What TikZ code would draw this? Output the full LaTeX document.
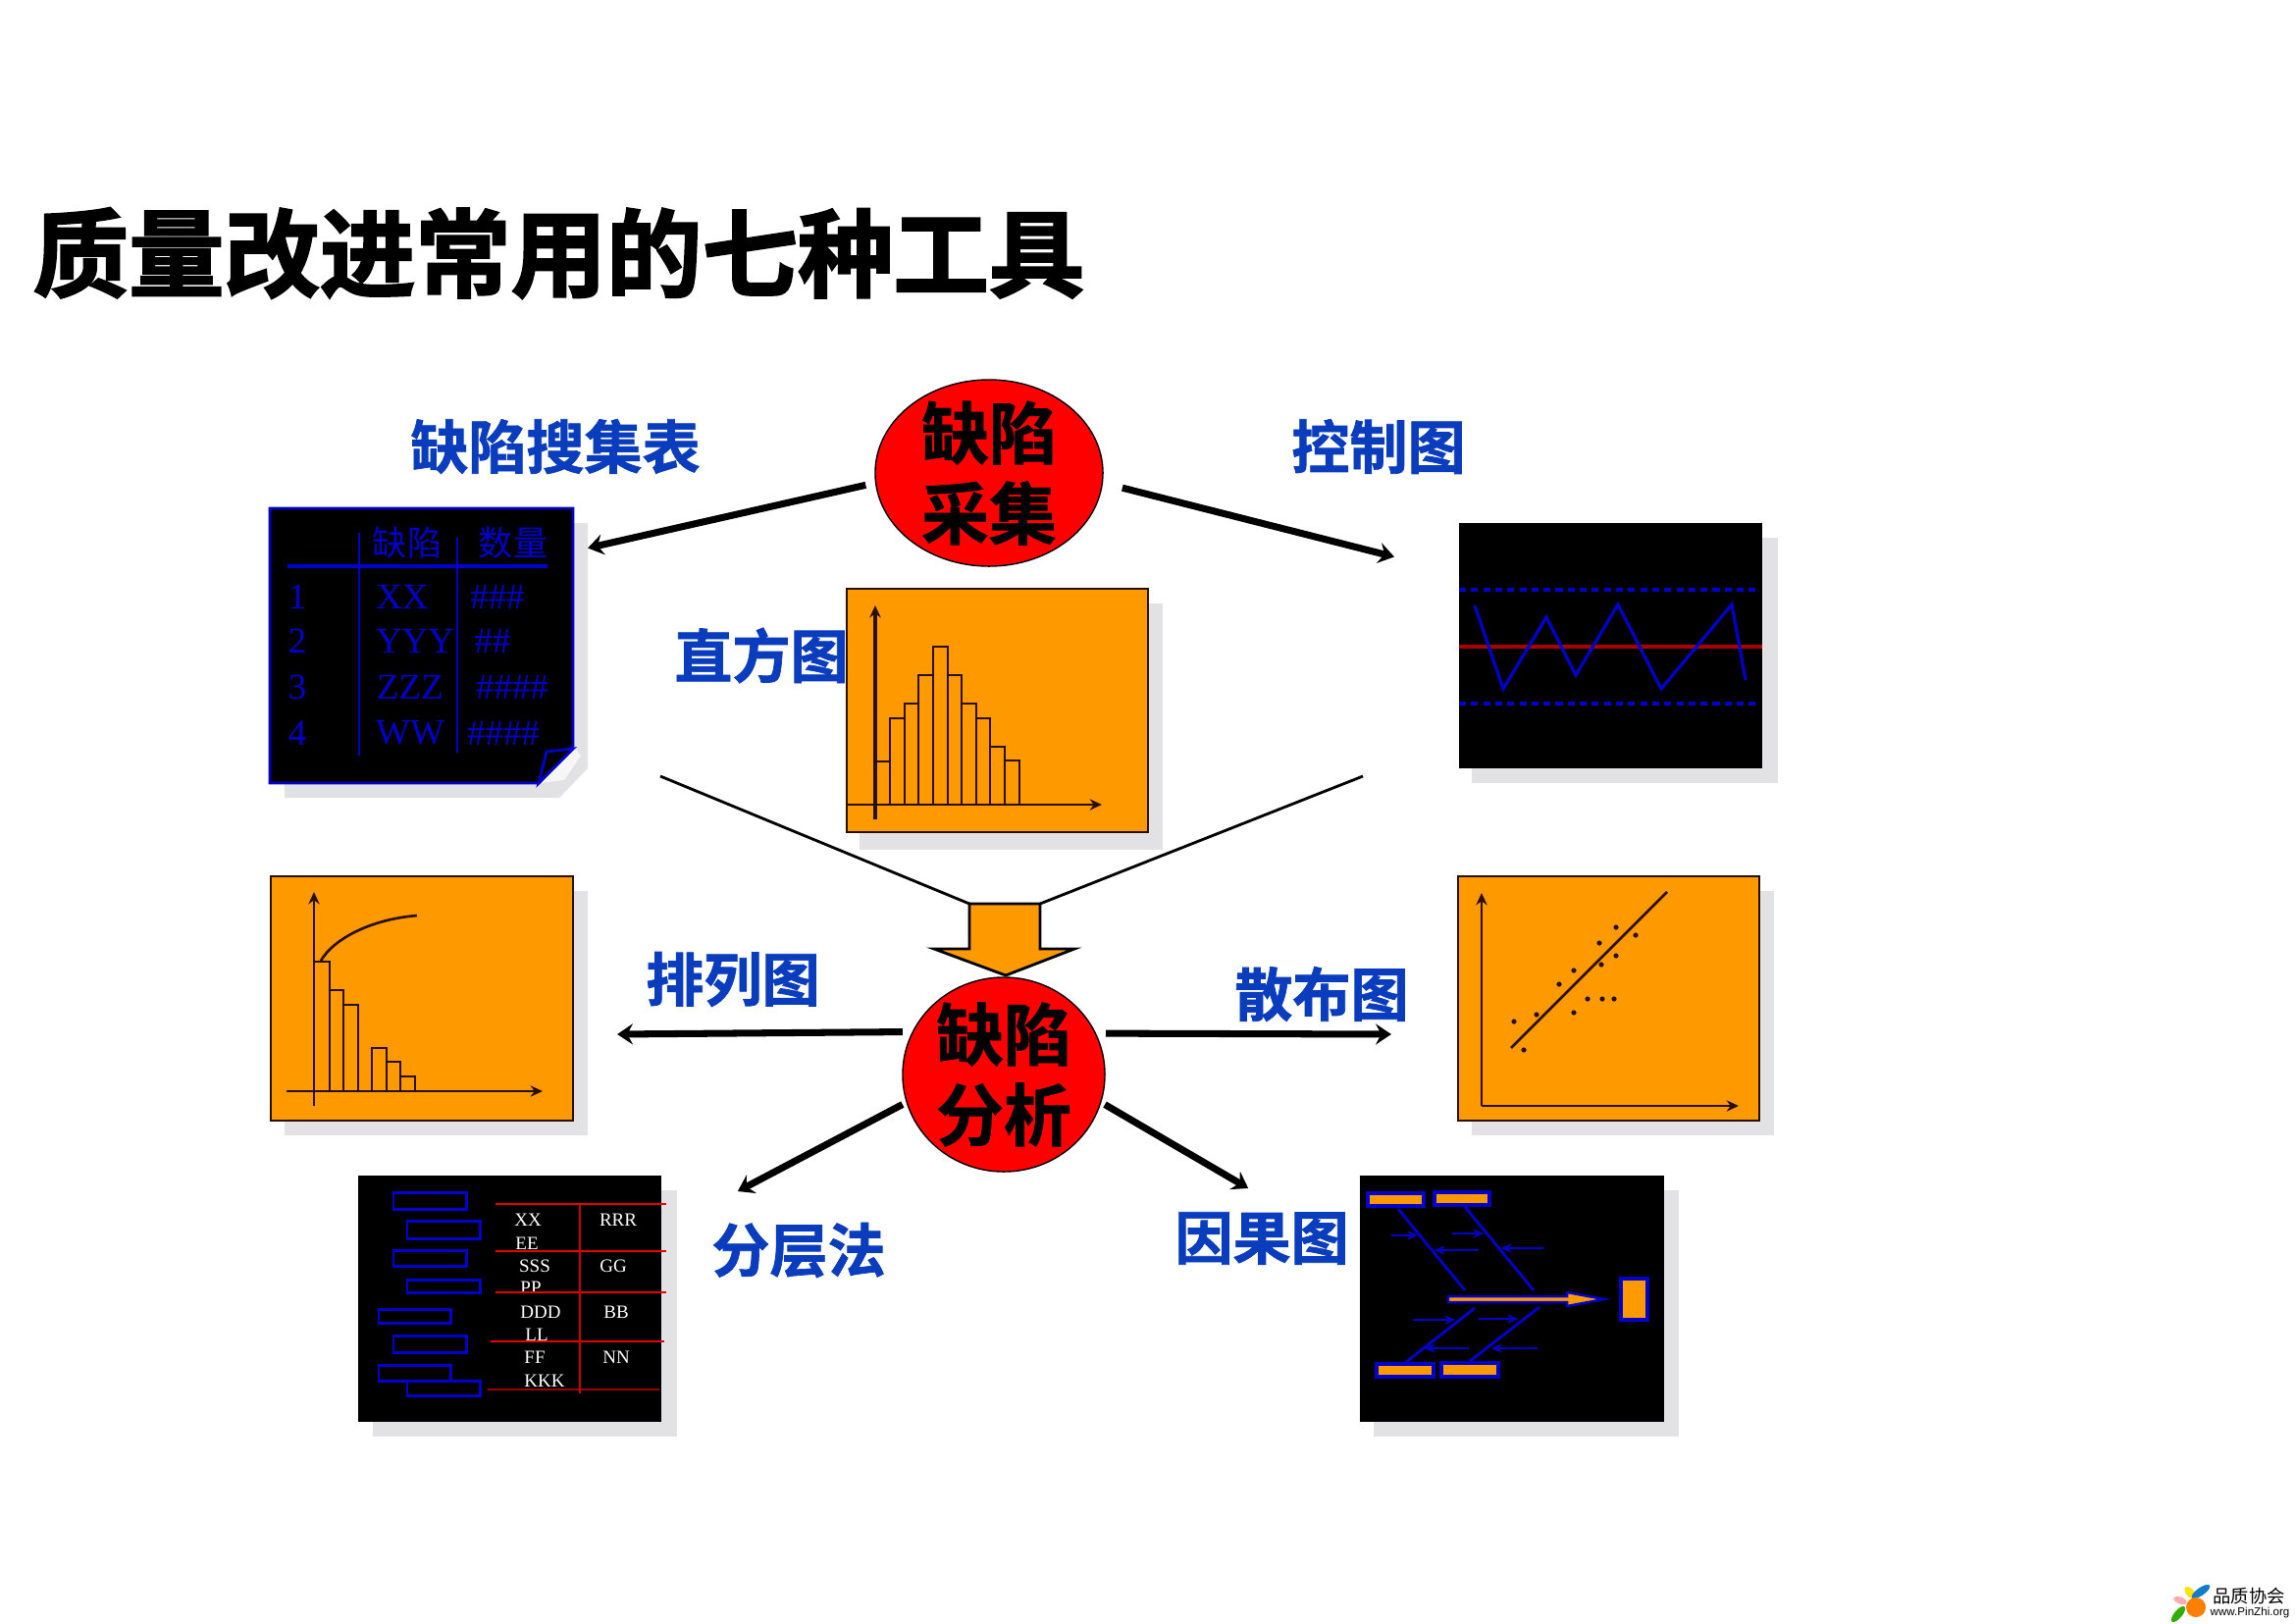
\documentclass[tikz,border=0pt]{standalone}
\usepackage{fontspec}
\setmainfont{Liberation Serif}
\setsansfont{Liberation Sans}
\newfontfamily\cjkfont[BoldFont={Noto Sans CJK SC Bold},BoldFeatures={FakeBold=1.2}]{Noto Sans CJK SC}
\newfontfamily\titlefont[FakeBold=2.2]{Noto Sans CJK SC Bold}
\usetikzlibrary{arrows.meta,positioning,shapes.geometric}
\definecolor{toolblue}{RGB}{10,60,190}
\definecolor{panelorange}{RGB}{255,153,0}
\definecolor{panelblue}{RGB}{0,0,205}
\definecolor{shadowgrey}{RGB}{226,226,228}
\definecolor{axisbrown}{RGB}{40,15,8}
\tikzset{
  toolname/.style={font=\cjkfont\bfseries\fontsize{16.8}{18}\selectfont,text=toolblue,inner sep=0pt},
  hubnode/.style={ellipse,draw=black,fill=red,line width=0.4pt,inner xsep=0pt,inner ysep=-3pt,align=center,
    font=\cjkfont\bfseries\fontsize{19.6}{23.3}\selectfont},
  linkarrow/.style={line width=2pt,-{Stealth[length=4.5pt,width=6pt,inset=1.6pt,sep=0.6pt]}},
  orangepanel/.style={draw=axisbrown,fill=panelorange,line width=0.65pt},
  blackpanel/.style={fill=black},
  panelaxis/.style={draw=axisbrown,line width=0.7pt,-{Stealth[length=3.5pt,width=3.2pt]}},
  histbar/.style={draw=axisbrown,line width=0.75pt},
  bluetext/.style={font=\fontsize{10.5}{11}\selectfont,text=panelblue,inner sep=0pt},
  whitetext/.style={font=\fontsize{5.4}{6}\selectfont,text=white,inner sep=0pt},
  stratbox/.style={draw=panelblue,line width=0.85pt},
  redline/.style={draw=red!90!black,line width=0.8pt},
  fishbox/.style={draw=panelblue,fill=panelorange,line width=0.9pt},
  bone/.style={draw=panelblue,line width=0.8pt},
  twig/.style={draw=panelblue,line width=0.5pt,-{Stealth[length=3pt,width=2.6pt]}},
}
\begin{document}
\begin{tikzpicture}[x=0.01cm,y=-0.01cm]
  \useasboundingbox (0,0) rectangle (2339,1654);
  % shadows
  \fill[shadowgrey] (290,533) -- (599,533) -- (599,783) -- (570,813) -- (290,813) -- cycle;
  \foreach \xa/\ya/\xb/\yb in {1500/548/1812/798,876/615/1185/866,290/908/599/1157,1500/908/1808/1157,380/1213/690/1464,1400/1213/1711/1464}
    \fill[shadowgrey] (\xa,\ya) rectangle (\xb,\yb);
  % title
  \node[anchor=west,inner sep=0pt,font=\titlefont\fontsize{27.7}{30}\selectfont] (title) at (33,258) {质量改进常用的七种工具};
  % hubs
  \node[hubnode,minimum width=232*0.2845pt,minimum height=190*0.2845pt] (collect) at (1008,482) {缺陷\\采集};
  \node[hubnode,minimum width=206*0.2845pt,minimum height=198*0.2845pt] (analyse) at (1023,1095) {缺陷\\分析};
  % table panel
  \fill[white!70!shadowgrey] (584,760) -- (549,798) -- (575,795) -- (592,770) -- cycle;
  \filldraw[fill=black,draw=panelblue,line width=0.8pt] (275,518) -- (584,518) -- (584,760) -- (549,798) -- (275,798) -- cycle;
  \filldraw[fill=black,draw=panelblue,line width=0.8pt] (584,763) -- (557,766) -- (549,798) -- cycle;
  \draw[panelblue,line width=0.9pt] (293,577) -- (558,577);
  \draw[panelblue,line width=0.7pt] (366,543) -- (366,770) (466,548) -- (466,767);
  \node[bluetext,font=\cjkfont\fontsize{10}{11}\selectfont] (thdefect) at (415,553) {缺陷};
  \node[bluetext,font=\cjkfont\fontsize{10}{11}\selectfont] (thcount) at (523,553) {数量};
  \foreach \yy/\nn/\cc/\cx/\mm/\mx in {608/1/XX/410/\#\#\#/507,653/2/YYY/423/\#\#/502,700/3/ZZZ/418/\#\#\#\#/522,747/4/WW/418/\#\#\#\#/513} {
    \node[bluetext] at (303,\yy) {\nn};
    \node[bluetext] at (\cx,\yy) {\cc};
    \node[bluetext] at (\mx,\yy) {\mm};
  }
  % control chart
  \fill[blackpanel] (1487,533) rectangle (1796,783);
  \draw[panelblue,line width=0.9pt,dash pattern=on 2pt off 1.5pt] (1487,601) -- (1790,601) (1487,717) -- (1790,717);
  \draw[red!65!black,line width=1.2pt] (1487,659) -- (1796,659);
  \draw[panelblue,line width=0.9pt] (1503,617) -- (1532,702) -- (1576,629) -- (1606,688) -- (1649,616) -- (1693,702) -- (1765,616) -- (1779,693);
  % histogram
  \filldraw[orangepanel] (863,600) rectangle (1170,848);
  \foreach \xa/\xb/\yt in {892/907/776,907/922/732,922/936/717,936/951/688,951/966/659,966/980/688,980/995/717,995/1009/732,1009/1024/761,1024/1039/775}
    \draw[histbar] (\xa,820) -- (\xa,\yt) -- (\xb,\yt) -- (\xb,820);
  \draw[panelaxis] (863,820) -- (1123,820);
  \draw[panelaxis,line width=1.1pt] (892,835) -- (892,617);
  % pareto
  \filldraw[orangepanel] (276,893) rectangle (584,1142);
  \foreach \xa/\xb/\yt in {320/336/980,336/350/1009,350/365/1024,379/394/1068,394/408/1082,408/423/1097}
    \draw[histbar] (\xa,1112) -- (\xa,\yt) -- (\xb,\yt) -- (\xb,1112);
  \draw[panelaxis] (292,1112) -- (553,1112);
  \draw[panelaxis] (320,1127) -- (320,909);
  \draw[histbar] (327,979) .. controls (340,957) and (377,937) .. (425,933);
  % scatter
  \filldraw[orangepanel] (1486,893) rectangle (1793,1142);
  \draw[panelaxis] (1510,1127) -- (1510,910);
  \draw[panelaxis] (1510,1127) -- (1772,1127);
  \draw[histbar] (1540,1068) -- (1699,909);
  \foreach \dx/\dy in {1543/1041,1553/1070,1566/1034,1589/1003,1604/989,1604/1032,1618/1018,1633/1018,1645/1018,1632/983,1630/961,1647/945,1647/974,1667/953}
    \fill[axisbrown] (\dx,\dy) circle (2.6);
  % stratification
  \fill[blackpanel] (365,1198) rectangle (674,1449);
  \foreach \xa/\ya/\xb/\yb in {401/1215/475/1232,415/1244/489/1262,401/1274/475/1290,415/1304/489/1317,386/1334/459/1348,401/1361/475/1378,386/1391/459/1407,415/1407/489/1422}
    \draw[stratbox] (\xa,\ya) rectangle (\xb,\yb);
  \foreach \tx/\ty/\tt in {538/1243/XX,537/1267/EE,545/1290/SSS,541/1312/PP,551/1337/DDD,547/1360/LL,545/1383/FF,555/1407/KKK,630/1243/RRR,625/1290/GG,628/1337/BB,628/1383/NN}
    \node[whitetext] at (\tx,\ty) {\tt};
  \foreach \xa/\xb/\yy in {505/679/1227,505/679/1275,505/679/1317,500/677/1367}
    \draw[redline] (\xa,\yy) -- (\xb,\yy);
  \draw[redline,draw=red!60!black] (497,1416) -- (672,1416);
  \draw[redline,red!80!black] (591,1227) -- (591,1420);
  % fishbone
  \fill[blackpanel] (1386,1198) rectangle (1696,1449);
  \foreach \xa/\ya/\xb/\yb in {1394/1216/1451/1229,1462/1215/1518/1228,1403/1390/1461/1403,1469/1389/1527/1403,1652/1303/1679/1345}
    \filldraw[fishbox] (\xa,\ya) rectangle (\xb,\yb);
  \foreach \xa/\ya/\xb/\yb in {1425/1232/1493/1315,1493/1230/1563/1315,1433/1388/1503/1333,1498/1387/1569/1332}
    \draw[bone] (\xa,\ya) -- (\xb,\yb);
  \foreach \xa/\ya/\xb/\yb in {1418/1259/1445/1259,1480/1257/1512/1257,1507/1274/1462/1274,1573/1272/1530/1272,1440/1345/1483/1345,1507/1344/1547/1344,1497/1374/1452/1374,1567/1374/1520/1374}
    \draw[twig] (\xa,\ya) -- (\xb,\yb);
  \filldraw[fill=panelorange,draw=panelblue,line width=0.7pt] (1476,1321) -- (1597,1321) -- (1597,1317) -- (1635,1324) -- (1597,1331) -- (1597,1327) -- (1476,1327) -- cycle;
  % funnel and block arrow
  \coordinate (funnelleft) at (673,791);
  \coordinate (funnelright) at (1389,791);
  \coordinate (blockleft) at (988,921);
  \coordinate (blockright) at (1060,921);
  \draw[black,line width=0.8pt] (funnelleft) -- (blockleft);
  \draw[black,line width=0.8pt] (funnelright) -- (blockright);
  \filldraw[fill=panelorange,draw=black,line width=0.8pt] (blockleft) -- (blockright) -- (1060,967) -- (1095,967) -- (1025,994) -- (952,967) -- (988,967) -- cycle;
  % arrows
  \coordinate (tableend) at (597,559);
  \coordinate (chartend) at (1423,568);
  \coordinate (paretoend) at (627,1054);
  \coordinate (scatterend) at (1420,1054);
  \coordinate (stratend) at (750,1215);
  \coordinate (fishend) at (1274,1212);
  \draw[linkarrow,shorten <=2.8pt] (collect.185) -- (tableend);
  \draw[linkarrow,shorten <=5.8pt] (collect.355) -- (chartend);
  \draw[linkarrow,shorten <=2.8pt] (analyse.155.2) -- (paretoend);
  \draw[linkarrow,shorten <=2.8pt] (analyse.24.8) -- (scatterend);
  \draw[linkarrow,shorten <=1.2pt] (analyse.196) -- (stratend);
  \draw[linkarrow,shorten <=1.2pt] (analyse.344) -- (fishend);
  % tool names
  \node[toolname] (nametable) at (566,455) {缺陷搜集表};
  \node[toolname] (namechart) at (1405,455) {控制图};
  \node[toolname] (namehist) at (776,668) {直方图};
  \node[toolname] (namepareto) at (747,998) {排列图};
  \node[toolname] (namescatter) at (1347,1013) {散布图};
  \node[toolname] (namestrat) at (814,1274) {分层法};
  \node[toolname] (namefish) at (1286,1262) {因果图};
  % logo
  \fill[yellow!85!orange] (2232,1623) ellipse [x radius=7,y radius=4,rotate=-50];
  \fill[cyan!60!blue] (2243,1622) ellipse [x radius=11,y radius=4,rotate=35];
  \fill[pink!90!red] (2222,1631) ellipse [x radius=7,y radius=3.5,rotate=-20];
  \fill[green!60!black!80!yellow] (2220,1645) ellipse [x radius=10,y radius=4,rotate=50];
  \fill[orange] (2238,1638) circle (10);
  \node[inner sep=0pt,font=\cjkfont\fontsize{5.2}{6}\selectfont] (logotext) at (2292,1627) {品质协会};
  \node[inner sep=0pt,font=\sffamily\fontsize{3.3}{4}\selectfont] (logourl) at (2293,1643) {www.PinZhi.org};
\end{tikzpicture}
\end{document}
